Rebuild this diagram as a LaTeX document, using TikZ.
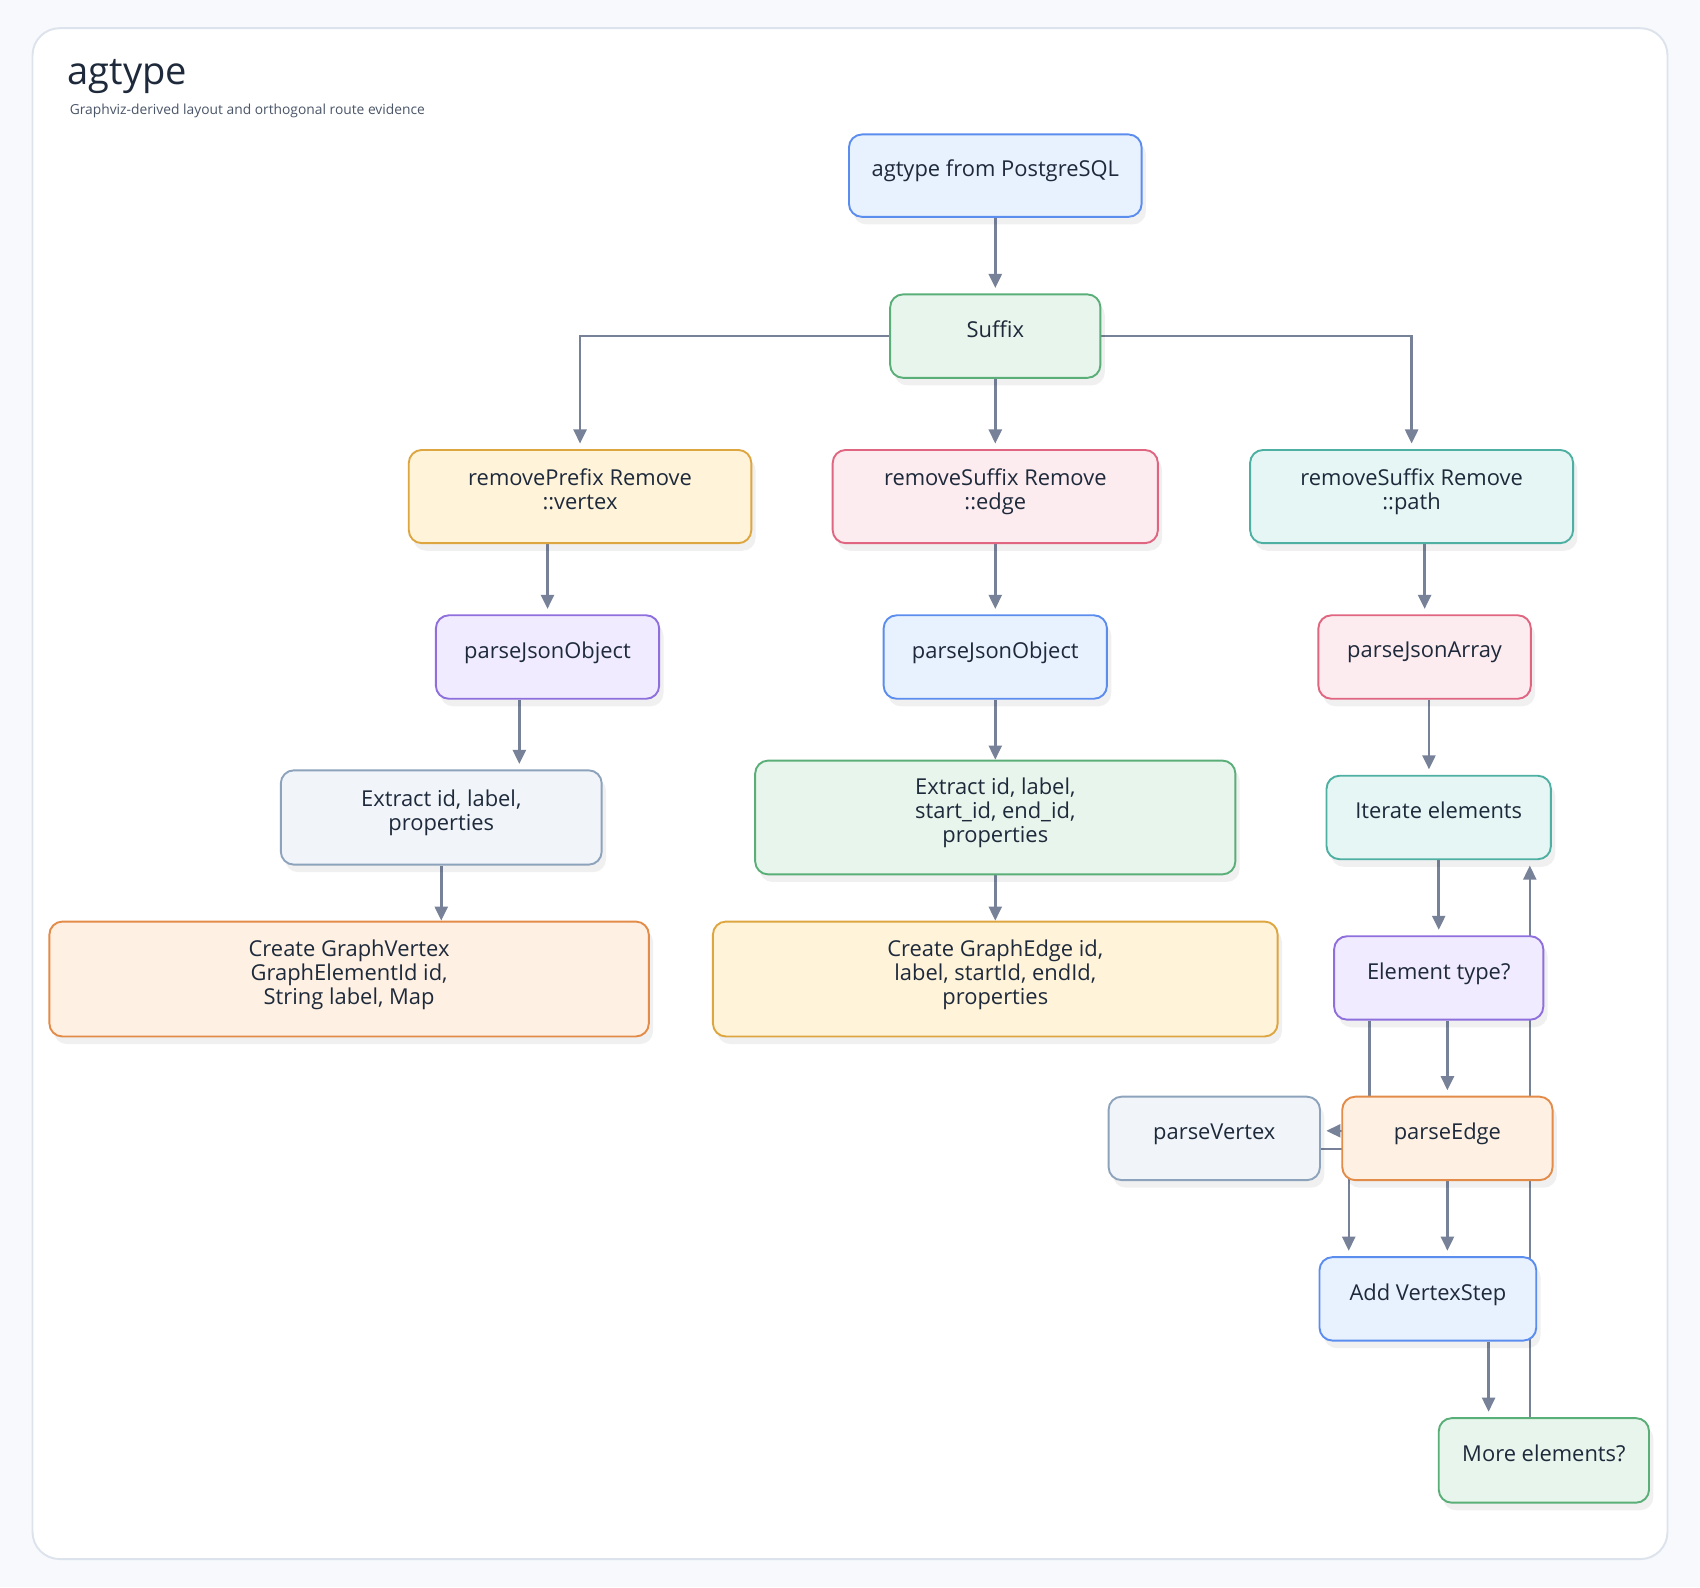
\documentclass[tikz,border=0pt]{standalone}
\usepackage{fontspec}
\setmainfont{Open Sans}
\usetikzlibrary{arrows.meta, positioning, calc, shadows}

\definecolor{page}{HTML}{F7F9FC}
\definecolor{cardline}{HTML}{DDE3EC}
\definecolor{ink}{HTML}{1E2A3B}
\definecolor{subink}{HTML}{4A5568}
\definecolor{wire}{HTML}{778299}
\definecolor{blueF}{HTML}{E8F1FE}   \definecolor{blueD}{HTML}{5B8DEF}
\definecolor{greenF}{HTML}{E8F5EC}  \definecolor{greenD}{HTML}{5AAE78}
\definecolor{yellowF}{HTML}{FFF3DA} \definecolor{yellowD}{HTML}{DDA640}
\definecolor{pinkF}{HTML}{FCEBEF}   \definecolor{pinkD}{HTML}{E06580}
\definecolor{tealF}{HTML}{E6F6F4}   \definecolor{tealD}{HTML}{4DB0A2}
\definecolor{purpleF}{HTML}{F0EBFE} \definecolor{purpleD}{HTML}{8F6FDD}
\definecolor{slateF}{HTML}{F1F5F9}  \definecolor{slateD}{HTML}{8DA2BB}
\definecolor{orangeF}{HTML}{FEF0E3} \definecolor{orangeD}{HTML}{E38B48}

\pgfdeclarelayer{back}
\pgfdeclarelayer{wires}
\pgfsetlayers{back,wires,main}

\begin{document}
\begin{tikzpicture}[x=0.02cm, y=-0.02cm,
  box/.style={
    rectangle, rounded corners=2.4mm, line width=1pt, inner sep=0pt,
    minimum width=3.9cm, minimum height=1.54cm, align=center, text=ink,
    text depth=0.26cm, font=\fontsize{11.5}{12.5}\selectfont,
    drop shadow={shadow xshift=0.8mm, shadow yshift=-1.4mm, opacity=0.06, fill=black}},
  nblue/.style={box, fill=blueF, draw=blueD},
  ngreen/.style={box, fill=greenF, draw=greenD},
  nyellow/.style={box, fill=yellowF, draw=yellowD},
  npink/.style={box, fill=pinkF, draw=pinkD},
  nteal/.style={box, fill=tealF, draw=tealD},
  npurple/.style={box, fill=purpleF, draw=purpleD},
  nslate/.style={box, fill=slateF, draw=slateD},
  norange/.style={box, fill=orangeF, draw=orangeD},
  arr/.style={-{Triangle[length=2.6mm, width=2.4mm]}, line width=1.3pt, wire, shorten >=1mm},
  touch/.style={shorten >=0pt}
]
% ── Page and card ──
\begin{pgfonlayer}{back}
  \fill[page] (0,0) rectangle (1568,1464);
  \draw[cardline, fill=white, line width=1pt, rounded corners=5mm] (30,26) rectangle (1538,1438);
\end{pgfonlayer}
\useasboundingbox (0,0) rectangle (1568,1464);

% ── Title ──
\node[anchor=base west, inner sep=0pt, text=ink, font=\fontsize{20}{23}\selectfont] (title) at (62,78) {agtype};
\node[anchor=base west, inner sep=0pt, text=subink, font=\fontsize{7.25}{8}\selectfont] (subtitle) at (64,106) {Graphviz-derived layout and orthogonal route evidence};

% ── Top ──
\node[nblue, minimum width=5.4cm, minimum height=1.52cm] (src) at (918,162) {agtype from PostgreSQL};
\node[ngreen, minimum width=3.88cm] (suffix) at (918,310) {Suffix};

% ── Prefix branches ──
\node[nyellow, minimum width=6.32cm, minimum height=1.72cm] (rmvertex) at (535,458) {removePrefix Remove\\::vertex};
\node[npink, minimum width=6.0cm, minimum height=1.72cm] (rmedge) at (918,458) {removeSuffix Remove\\::edge};
\node[nteal, minimum width=5.96cm, minimum height=1.72cm] (rmpath) at (1302,458) {removeSuffix Remove\\::path};

% ── Parsers ──
\node[npurple, minimum width=4.12cm] (pjovertex) at (505,606) {parseJsonObject};
\node[nblue, minimum width=4.12cm] (pjoedge) at (918,606) {parseJsonObject};
\node[npink, minimum width=3.92cm] (pjapath) at (1314,606) {parseJsonArray};

% ── Extraction ──
\node[nslate, minimum width=5.92cm, minimum height=1.74cm] (exvertex) at (407,754) {Extract id, label,\\properties};
\node[ngreen, minimum width=8.86cm, minimum height=2.1cm] (exedge) at (918,754) {Extract id, label,\\start\_id, end\_id,\\properties};
\node[nteal, minimum width=4.14cm] (iter) at (1327,754) {Iterate elements};

% ── Creation ──
\node[norange, minimum width=11.06cm, minimum height=2.12cm] (mkvertex) at (322,903) {Create GraphVertex\\GraphElementId id,\\String label, Map};
\node[nyellow, minimum width=10.42cm, minimum height=2.12cm] (mkedge) at (918,903) {Create GraphEdge id,\\label, startId, endId,\\properties};

% ── Path loop ──
\node[npurple, minimum width=3.86cm] (etype) at (1327,902) {Element type?};
\node[nslate, minimum width=3.9cm] (pvertex) at (1120,1050) {parseVertex};
\node[norange, minimum width=3.88cm] (pedge) at (1335,1050) {parseEdge};
\node[nblue, minimum width=4.0cm] (addstep) at (1317,1198) {Add VertexStep};
\node[ngreen, minimum width=3.88cm, minimum height=1.56cm] (more) at (1424,1347) {More elements?};

% ── Connectors ──
\begin{pgfonlayer}{wires}
  \draw[arr] (src) -- (suffix);
  \draw[arr] (suffix.west) -| (rmvertex.north);
  \draw[arr] (suffix) -- (rmedge);
  \draw[arr] (suffix.east) -| (rmpath.north);
  \draw[arr] (pjovertex.north |- rmvertex.south) -- (pjovertex.north);
  \draw[arr] (rmedge) -- (pjoedge);
  \draw[arr] (pjapath.north |- rmpath.south) -- (pjapath.north);
  \coordinate (pjoout) at ($(pjovertex.south)+(-26,0)$);
  \draw[arr] (pjoout) -- (pjoout |- exvertex.north);
  \draw[arr, touch] (pjoedge) -- (exedge);
  \coordinate (pjaout) at ($(pjapath.south)+(4,0)$);
  \draw[arr] (pjaout) -- (pjaout |- iter.north);
  \draw[arr, touch] (exvertex.south) -- (exvertex.south |- mkvertex.north);
  \draw[arr, touch] (exedge) -- (mkedge);
  \draw[arr] (iter) -- (etype);
  \draw[arr] (pedge.north |- etype.south) -- (pedge.north);
  \draw[arr] ($(etype.south)+(-64,0)$) |- ($(pvertex.east)+(0,-7)$);
  \draw[arr] ($(pvertex.east)+(0,10)$) -| ($(addstep.north)+(-73,0)$);
  \draw[arr] (pedge.south) -- (pedge.south |- addstep.north);
  \coordinate (morein) at ($(more.north)+(-51,0)$);
  \draw[arr] (morein |- addstep.south) -- (morein);
  \coordinate (moreout) at ($(more.north)+(-13,0)$);
  \draw[arr] (moreout) -- (moreout |- iter.south);
\end{pgfonlayer}
\end{tikzpicture}
\end{document}
